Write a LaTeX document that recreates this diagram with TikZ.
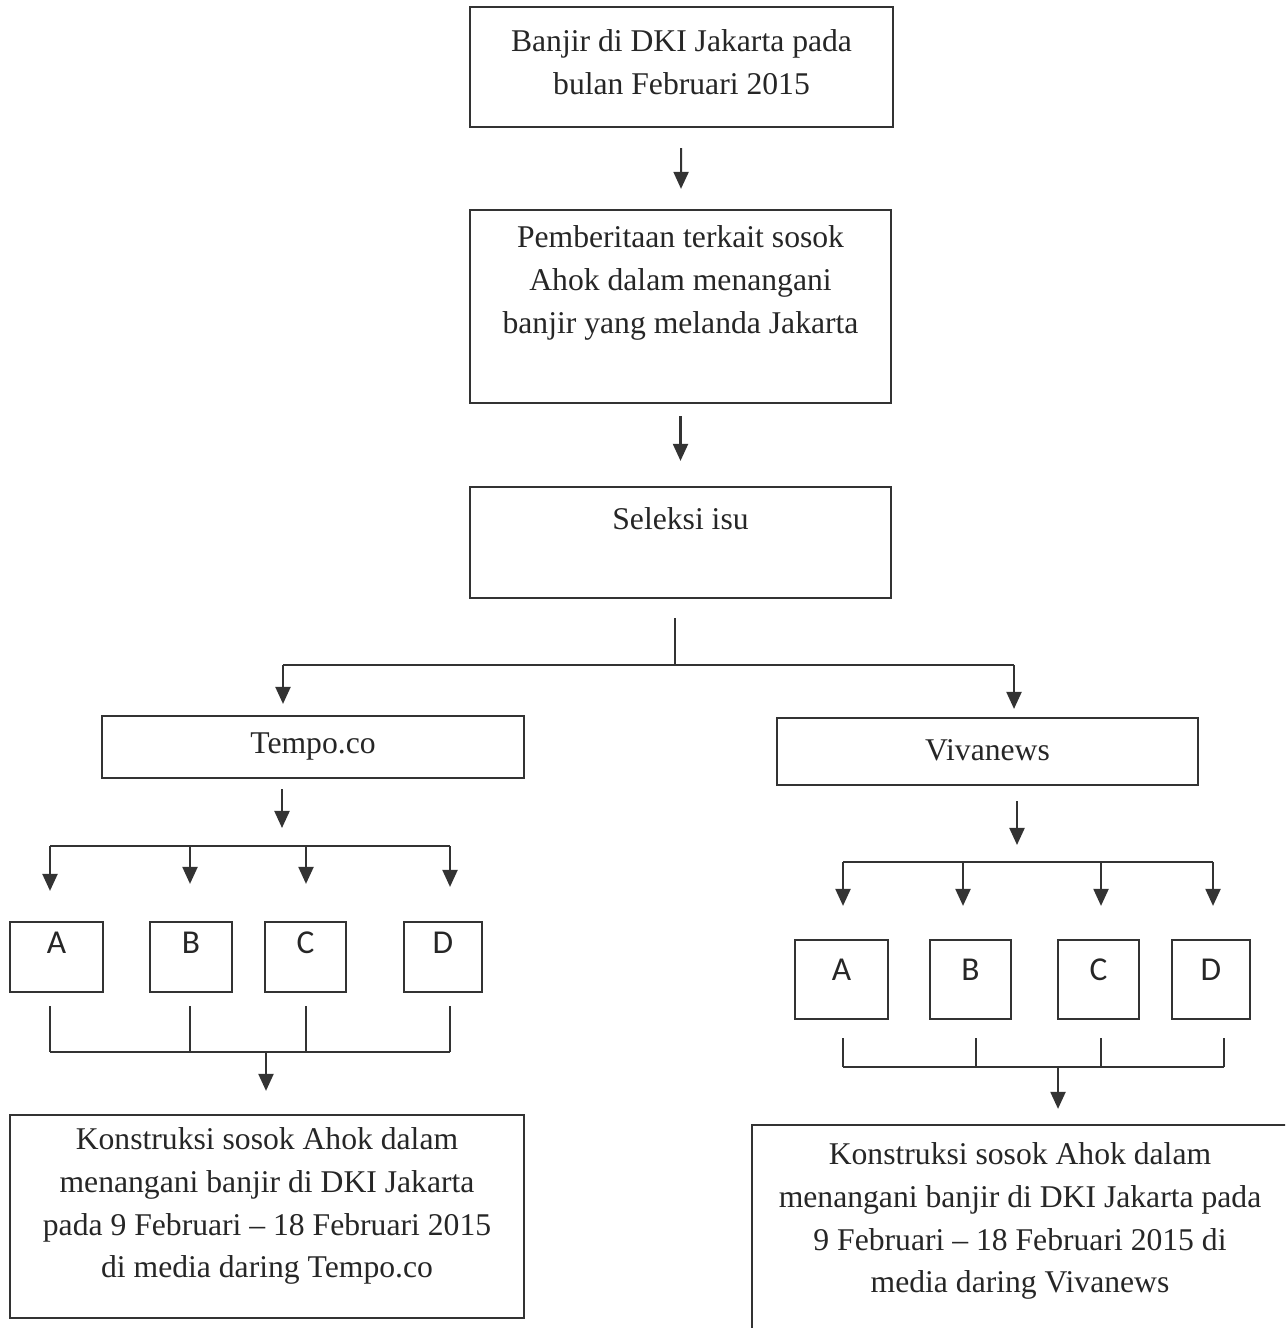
\documentclass[tikz,border=0pt]{standalone}
\usepackage{fontspec}
\setmainfont{Liberation Serif}
\newfontfamily\letterfont{Carlito}
\usetikzlibrary{arrows.meta,calc,positioning}

\tikzset{
	box/.style={draw=black!80,line width=0.6pt,inner sep=0pt},
	txt/.style={font=\fontsize{9}{12.2}\selectfont,align=center,text=black!85,inner sep=0pt},
	letter/.style={font=\letterfont\fontsize{9.5}{11}\selectfont,text=black!85,inner sep=0pt},
	link/.style={draw=black!80,line width=0.6pt},
	arr/.style={link,-{Triangle[length=1.7mm,width=1.5mm]}}
}

\begin{document}
\begin{tikzpicture}[x=0.01cm,y=-0.01cm]
	\useasboundingbox (0,0) rectangle (1285,1328);
	\clip (0,0) rectangle (1285,1328);
	\node[box,minimum width=4.23cm,minimum height=1.2cm] (b1) at (681.5,67) {};
	\node[txt] (t1) at (681.5,62) {Banjir di DKI Jakarta pada\\bulan Februari 2015};
	\node[box,minimum width=4.21cm,minimum height=1.93cm] (b2) at (680.5,306.5) {};
	\node[txt] (t2) at (680.5,283) {Pemberitaan terkait sosok\\Ahok dalam menangani\\banjir yang melanda Jakarta};
	\node[box,minimum width=4.21cm,minimum height=1.11cm] (b3) at (680.5,542.5) {};
	\node[txt] (t3) at (680.5,519) {Seleksi isu};
	\node[box,minimum width=4.22cm,minimum height=0.62cm] (tempo) at (313,747) {};
	\node[txt] (tempolbl) at (313,747) {Tempo.co};
	\node[box,minimum width=4.21cm,minimum height=0.67cm] (viva) at (987.5,751.5) {};
	\node[txt] (vivalbl) at (987.5,750) {Vivanews};
	\foreach \l/\x/\w in {A/56.5/0.93,B/191/0.82,C/305.5/0.81,D/443/0.78}{
		\node[box,minimum width=\w cm,minimum height=0.7cm] (ta\l) at (\x,957) {};
		\node[letter] at (\x,943) {\l};
	}
	\foreach \l/\x/\w in {A/841.5/0.93,B/970.5/0.81,C/1098.5/0.81,D/1211/0.78}{
		\node[box,minimum width=\w cm,minimum height=0.79cm] (va\l) at (\x,979.5) {};
		\node[letter] at (\x,970) {\l};
	}
	\node[box,minimum width=5.14cm,minimum height=2.03cm] (tres) at (267,1216.5) {};
	\node[txt] (treslbl) at (267,1206) {Konstruksi sosok Ahok dalam\\menangani banjir di DKI Jakarta\\pada 9 Februari -- 18 Februari 2015\\di media daring Tempo.co};
	\node[box,minimum width=5.38cm,minimum height=2.1cm] (vres) at (1021,1230) {};
	\node[txt] (vreslbl) at (1020,1221) {Konstruksi sosok Ahok dalam\\menangani banjir di DKI Jakarta pada\\9 Februari -- 18 Februari 2015 di\\media daring Vivanews};

	\draw[arr,shorten <=2mm,shorten >=2mm] (b1) -- (b2);
	\draw[arr,shorten <=1.2mm,shorten >=2.5mm] (b2) -- (b3);
	\coordinate (split) at (675,665);
	\coordinate (jL) at (283,665);
	\coordinate (jR) at (1014,665);
	\draw[link,shorten <=1.9mm] (b3.south -| split) -- (split);
	\draw[link] (jL) -- (jR);
	\draw[arr,shorten >=1.1mm] (jL) -- (jL |- tempo.north);
	\draw[arr,shorten >=0.8mm] (jR) -- (jR |- viva.north);

	\foreach \l/\x in {A/50,B/190,C/306,D/450}{
		\coordinate (t\l) at (\x,846);
		\coordinate (u\l) at (\x,1052);
	}
	\coordinate (tin) at (282,846);
	\coordinate (tout) at (266,1052);
	\draw[arr,shorten <=1mm,shorten >=1.8mm] (tempo.south -| tin) -- (tin);
	\draw[link] (tA) -- (tD);
	\foreach \l/\s in {A/3.0,B/3.7,C/3.7,D/3.4}
		\draw[arr,shorten >=\s mm] (t\l) -- (t\l |- ta\l.north);
	\foreach \l in {A,B,C,D}
		\draw[link,shorten <=1.3mm] (u\l |- ta\l.south) -- (u\l);
	\draw[link] (uA) -- (uD);
	\draw[arr,shorten >=2.3mm] (tout) -- (tout |- tres.north);

	\foreach \l/\x in {A/843,B/963,C/1101,D/1213}
		\coordinate (v\l) at (\x,862);
	\foreach \l/\x in {A/843,B/976,C/1101,D/1224}
		\coordinate (w\l) at (\x,1067);
	\coordinate (vin) at (1017,862);
	\coordinate (vout) at (1058,1067);
	\draw[arr,shorten <=1.5mm,shorten >=1.7mm] (viva.south -| vin) -- (vin);
	\draw[link] (vA) -- (vD);
	\foreach \l in {A,B,C,D}
		\draw[arr,shorten >=3.3mm] (v\l) -- (v\l |- va\l.north);
	\foreach \l in {A,B,C,D}
		\draw[link,shorten <=1.8mm] (w\l |- va\l.south) -- (w\l);
	\draw[link] (wA) -- (wD);
	\draw[arr,shorten >=1.5mm] (vout) -- (vout |- vres.north);
\end{tikzpicture}
\end{document}
